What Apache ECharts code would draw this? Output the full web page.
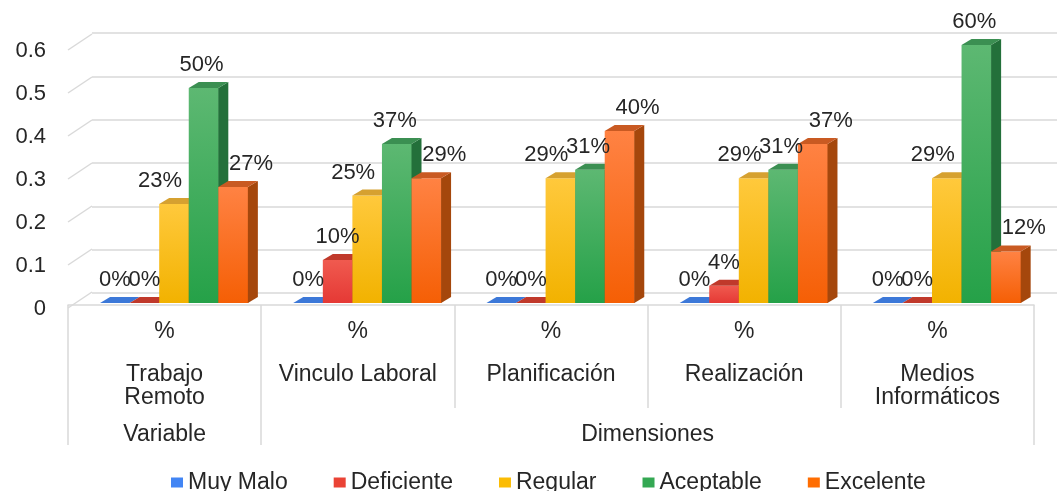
<!DOCTYPE html>
<html>
<head>
<meta charset="utf-8">
<script src="https://cdn.jsdelivr.net/npm/echarts@6/dist/echarts.min.js"></script>
<style>
  html, body { margin: 0; padding: 0; background: #ffffff; }
  #chart { width: 1057px; height: 491px; }
</style>
</head>
<body>
<div id="chart"></div>
<script>
// ---- data ----
const categories = ['Trabajo\nRemoto', 'Vinculo Laboral', 'Planificación', 'Realización', 'Medios\nInformáticos'];
const unitLabel = '%';
const groupLabels = ['Variable', 'Dimensiones'];
const groupSpans = [1, 4];
const seriesNames = ['Muy Malo', 'Deficiente', 'Regular', 'Aceptable', 'Excelente'];
const muyMalo    = [0.00, 0.00, 0.00, 0.00, 0.00];
const deficiente = [0.00, 0.10, 0.00, 0.04, 0.00];
const regular    = [0.23, 0.25, 0.29, 0.29, 0.29];
const aceptable  = [0.50, 0.37, 0.31, 0.31, 0.60];
const excelente  = [0.27, 0.29, 0.40, 0.37, 0.12];
const yTicks = [0, 0.1, 0.2, 0.3, 0.4, 0.5, 0.6];

// ---- styles ----
const FONT = '"Liberation Sans", Arial, sans-serif';
const TXT = '#262626';
const GRID_COL = '#d9d9d9';
const styles = [
  { legend: '#4285f4', front: ['#4a86e8', '#3c78d8'], top: '#3c78d8', side: '#2b5fb0', labelDx: 0 },
  { legend: '#ea4335', front: ['#f05a4f', '#e53935'], top: '#c0392b', side: '#a52a24', labelDx: 0 },
  { legend: '#fbbc04', front: ['#ffc93c', '#f2b200'], top: '#d6a130', side: '#b8860b', labelDx: -14 },
  { legend: '#34a853', front: ['#5db872', '#25a148'], top: '#3b8f52', side: '#23703a', labelDx: -2 },
  { legend: '#ff6d01', front: ['#ff8243', '#f55f05'], top: '#c95a22', side: '#a5470c', labelDx: 18 }
];
const seriesData = [muyMalo, deficiente, regular, aceptable, excelente];

function makeRender(s) {
  return function (params, api) {
    const cat = api.value(0), v = api.value(1);
    const b = api.coord([cat, 0]);
    const t = api.coord([cat, v]);
    const band = api.size([1, 0])[0];
    const bw = band * 0.153;
    const x0 = b[0] - band / 2 + band * 0.166 + s * bw;
    const yb = b[1] - 2, yt = t[1] - 2;
    const dx = 10, dy = 6;
    const st = styles[s];
    const children = [];
    if (yb - yt > 0.5) {
      children.push({
        type: 'rect',
        shape: { x: x0, y: yt, width: bw + 0.5, height: yb - yt },
        style: { fill: { type: 'linear', x: 0, y: 0, x2: 0, y2: 1,
          colorStops: [{ offset: 0, color: st.front[0] }, { offset: 1, color: st.front[1] }] } }
      });
      children.push({
        type: 'polygon',
        shape: { points: [[x0 + bw, yt], [x0 + bw + dx, yt - dy], [x0 + bw + dx, yb - dy], [x0 + bw, yb]] },
        style: { fill: st.side }
      });
    }
    children.push({
      type: 'polygon',
      shape: { points: [[x0, yt], [x0 + dx, yt - dy], [x0 + bw + dx, yt - dy], [x0 + bw, yt]] },
      style: { fill: st.top }
    });
    children.push({
      type: 'text',
      x: x0 + bw / 2 + st.labelDx,
      y: yt - 23,
      z2: 10,
      style: { text: Math.round(v * 100) + '%', fill: TXT, font: '22px ' + FONT, align: 'center', verticalAlign: 'middle' }
    });
    return { type: 'group', children: children };
  };
}

// group boundaries and centers for the outer category level
const groupBounds = [0];
groupSpans.forEach(sp => groupBounds.push(groupBounds[groupBounds.length - 1] + sp));
const groupCenters = groupSpans.map((sp, i) => groupBounds[i] + sp / 2);

const chart = echarts.init(document.getElementById('chart'));
const series = seriesNames.map((name, s) => ({
  name: name,
  type: 'custom',
  xAxisIndex: 0,
  yAxisIndex: 0,
  itemStyle: { color: styles[s].legend },
  renderItem: makeRender(s),
  data: seriesData[s].map((v, i) => [i, v]),
  z: 3
}));
series.unshift({
  name: 'wall',
  type: 'custom',
  silent: true,
  xAxisIndex: 0,
  yAxisIndex: 0,
  z: 1,
  renderItem: function (params, api) {
    const y = api.coord([0, api.value(1)])[1];
    const x = params.coordSys.x;
    return { type: 'line', shape: { x1: x, y1: y + 3, x2: x + 24, y2: y - 13 },
      style: { stroke: GRID_COL, lineWidth: 1.5 } };
  },
  data: yTicks.map(v => [0, v])
});

chart.setOption({
  animation: false,
  backgroundColor: '#ffffff',
  textStyle: { fontFamily: FONT },
  grid: [
    { left: 68, right: 23, top: 47, bottom: 186 },
    { left: 92, right: 0, top: 33, bottom: 198 }
  ],
  legend: {
    data: seriesNames,
    top: 466,
    left: 166,
    icon: 'rect',
    itemWidth: 12,
    itemHeight: 10,
    itemGap: 46,
    textStyle: { fontSize: 23, color: TXT, fontFamily: FONT }
  },
  xAxis: [
    {
      type: 'category', gridIndex: 0, data: categories, position: 'bottom', offset: 3,
      boundaryGap: true,
      axisLine: { lineStyle: { color: GRID_COL, width: 1.5 } },
      axisTick: { show: true, interval: 0, length: 103, lineStyle: { color: GRID_COL, width: 1.5 } },
      axisLabel: {
        interval: 0, margin: 12, color: TXT, fontFamily: FONT,
        formatter: function (val) {
          return '{p|' + unitLabel + '}\n{s| }\n' + val.split('\n').map(l => '{n|' + l + '}').join('\n');
        },
        rich: {
          p: { fontSize: 23, lineHeight: 24, color: TXT, fontFamily: FONT },
          s: { fontSize: 10, lineHeight: 19 },
          n: { fontSize: 23, lineHeight: 23, color: TXT, fontFamily: FONT }
        }
      }
    },
    {
      type: 'value', gridIndex: 0, min: 0, max: groupBounds[groupBounds.length - 1],
      position: 'bottom', offset: 103,
      axisLine: { show: false },
      splitLine: { show: false },
      axisTick: { show: true, customValues: groupBounds, length: 37, lineStyle: { color: GRID_COL, width: 1.5 } },
      axisLabel: {
        customValues: groupCenters, margin: 15, fontSize: 23, color: TXT, fontFamily: FONT,
        formatter: function (v) {
          const i = groupCenters.findIndex(c => Math.abs(c - v) < 1e-6);
          return i >= 0 ? groupLabels[i] : '';
        }
      }
    },
    { type: 'value', gridIndex: 1, show: false, min: 0, max: 1 }
  ],
  yAxis: [
    {
      type: 'value', gridIndex: 0, min: 0, max: 0.6, interval: 0.1,
      axisLine: { show: false }, axisTick: { show: false }, splitLine: { show: false },
      axisLabel: { margin: 22, fontSize: 22, color: TXT, fontFamily: FONT,
        formatter: v => '{a|' + String(Math.round(v * 10) / 10) + '}',
        rich: { a: { fontSize: 22, color: TXT, fontFamily: FONT, padding: [8, 0, 0, 0] } } }
    },
    {
      type: 'value', gridIndex: 1, min: 0, max: 0.6, interval: 0.1,
      axisLine: { show: false }, axisTick: { show: false }, axisLabel: { show: false },
      splitLine: { lineStyle: { color: GRID_COL, width: 1.5 } }
    }
  ],
  series: series
});
</script>
</body>
</html>
